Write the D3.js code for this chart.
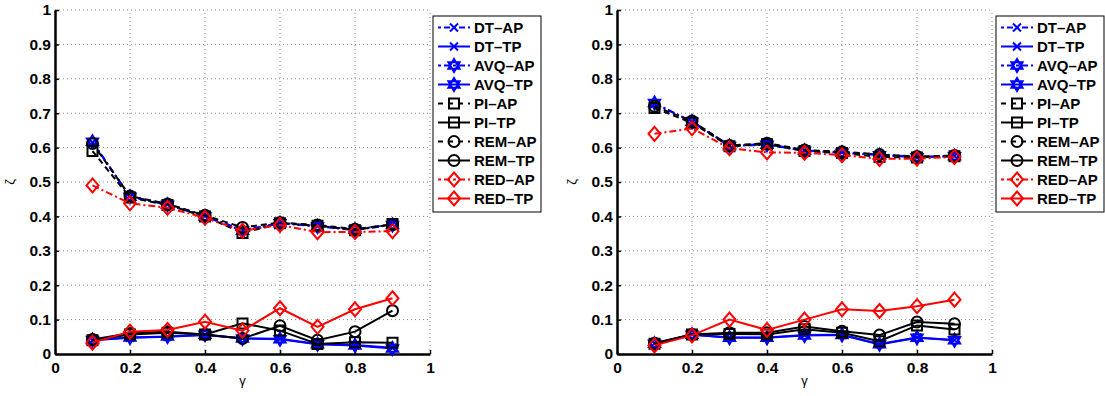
<!DOCTYPE html>
<html>
<head>
<meta charset="utf-8">
<script src="https://cdn.jsdelivr.net/npm/d3@7"></script>
<style>
body { margin: 0; background: #fff; }
text { font-family: "Liberation Sans", Arial, sans-serif; }
</style>
</head>
<body>
<div id="chart"></div>
<script>
var gammas = [0.1, 0.2, 0.3, 0.4, 0.5, 0.6, 0.7, 0.8, 0.9];
var ticks = [0, 0.1, 0.2, 0.3, 0.4, 0.5, 0.6, 0.7, 0.8, 0.9, 1];
var xticks = [0, 0.2, 0.4, 0.6, 0.8, 1];
var seriesNames = ["DT-AP", "DT-TP", "AVQ-AP", "AVQ-TP", "PI-AP", "PI-TP", "REM-AP", "REM-TP", "RED-AP", "RED-TP"];

// left panel
var leftDTAP  = [0.615, 0.458, 0.435, 0.402, 0.360, 0.381, 0.372, 0.362, 0.377];
var leftDTTP  = [0.040, 0.047, 0.050, 0.055, 0.046, 0.044, 0.029, 0.026, 0.018];
var leftAVQAP = [0.617, 0.457, 0.434, 0.400, 0.358, 0.380, 0.371, 0.361, 0.375];
var leftAVQTP = [0.041, 0.048, 0.051, 0.056, 0.045, 0.043, 0.028, 0.025, 0.016];
var leftPIAP  = [0.590, 0.455, 0.433, 0.400, 0.352, 0.380, 0.373, 0.360, 0.378];
var leftPITP  = [0.040, 0.057, 0.062, 0.057, 0.089, 0.068, 0.029, 0.034, 0.033];
var leftREMAP = [0.612, 0.459, 0.436, 0.403, 0.368, 0.382, 0.375, 0.363, 0.376];
var leftREMTP = [0.042, 0.060, 0.065, 0.057, 0.045, 0.082, 0.040, 0.065, 0.126];
var leftREDAP = [0.490, 0.438, 0.425, 0.396, 0.358, 0.375, 0.354, 0.355, 0.357];
var leftREDTP = [0.033, 0.065, 0.070, 0.094, 0.068, 0.133, 0.079, 0.130, 0.162];

// right panel
var rightDTAP  = [0.727, 0.676, 0.606, 0.610, 0.592, 0.586, 0.580, 0.573, 0.576];
var rightDTTP  = [0.031, 0.057, 0.048, 0.048, 0.055, 0.056, 0.029, 0.048, 0.041];
var rightAVQAP = [0.730, 0.675, 0.605, 0.608, 0.591, 0.585, 0.578, 0.572, 0.575];
var rightAVQTP = [0.030, 0.056, 0.047, 0.047, 0.054, 0.055, 0.028, 0.047, 0.040];
var rightPIAP  = [0.715, 0.672, 0.604, 0.610, 0.590, 0.584, 0.573, 0.571, 0.575];
var rightPITP  = [0.030, 0.057, 0.058, 0.057, 0.072, 0.062, 0.037, 0.083, 0.071];
var rightREMAP = [0.720, 0.677, 0.606, 0.613, 0.593, 0.588, 0.580, 0.574, 0.577];
var rightREMTP = [0.031, 0.057, 0.062, 0.062, 0.080, 0.066, 0.055, 0.093, 0.088];
var rightREDAP = [0.640, 0.656, 0.598, 0.586, 0.585, 0.578, 0.567, 0.568, 0.573];
var rightREDTP = [0.025, 0.054, 0.100, 0.070, 0.100, 0.130, 0.125, 0.139, 0.158];

var leftData = [leftDTAP, leftDTTP, leftAVQAP, leftAVQTP, leftPIAP, leftPITP, leftREMAP, leftREMTP, leftREDAP, leftREDTP];
var rightData = [rightDTAP, rightDTTP, rightAVQAP, rightAVQTP, rightPIAP, rightPITP, rightREMAP, rightREMTP, rightREDAP, rightREDTP];

// style per series: color, dash, marker
var styles = [
    {color: "#0000ff", dash: "7,3,2,3", marker: "x"},
    {color: "#0000ff", dash: null, marker: "x"},
    {color: "#0000ff", dash: "7,3,2,3", marker: "hex"},
    {color: "#0000ff", dash: null, marker: "hex"},
    {color: "#000000", dash: "6,4", marker: "square"},
    {color: "#000000", dash: null, marker: "square"},
    {color: "#000000", dash: "6,4", marker: "circle"},
    {color: "#000000", dash: null, marker: "circle"},
    {color: "#ff0000", dash: "7,3,2,3", marker: "diamond"},
    {color: "#ff0000", dash: null, marker: "diamond"}
];

var width = 1105, height = 396;
var svg = d3.select("#chart").append("svg")
        .attr("width", width)
        .attr("height", height);

function markerPath(type) {
    if (type == "x") {
        var s = 4;
        return "M" + (-s) + "," + (-s) + "L" + s + "," + s + "M" + (-s) + "," + s + "L" + s + "," + (-s);
    }
    if (type == "hex") {
        var r = 6.5, p = "";
        for (var t = 0; t < 2; t++) {
            for (var k = 0; k < 3; k++) {
                var a = (t * 60 + k * 120 - 90) * Math.PI / 180;
                p += (k == 0 ? "M" : "L") + (r * Math.cos(a)).toFixed(2) + "," + (r * Math.sin(a)).toFixed(2);
            }
            p += "Z";
        }
        return p;
    }
    if (type == "square") {
        return "M-5,-5L5,-5L5,5L-5,5Z";
    }
    if (type == "circle") {
        return "M-5.5,0A5.5,5.5 0 1,0 5.5,0A5.5,5.5 0 1,0 -5.5,0Z";
    }
    if (type == "diamond") {
        return "M0,-7L6,0L0,7L-6,0Z";
    }
}

function drawPanel(x0, x1, y0, y1, data, legendX) {
    var x = d3.scaleLinear().domain([0, 1]).range([x0, x1]);
    var y = d3.scaleLinear().domain([0, 1]).range([y0, y1]);
    var g = svg.append("g");

    // grid
    g.selectAll(".hgrid").data(ticks.slice(1)).enter().append("line")
            .attr("x1", x0).attr("x2", x1)
            .attr("y1", function(d) { return y(d); })
            .attr("y2", function(d) { return y(d); })
            .attr("stroke", "#888").attr("stroke-width", 1)
            .attr("stroke-dasharray", "1,3");
    g.selectAll(".vgrid").data(xticks.slice(1)).enter().append("line")
            .attr("y1", y0).attr("y2", y1)
            .attr("x1", function(d) { return x(d); })
            .attr("x2", function(d) { return x(d); })
            .attr("stroke", "#888").attr("stroke-width", 1)
            .attr("stroke-dasharray", "1,3");

    // axes
    var xAxis = d3.axisBottom(x).tickValues(xticks).tickSizeInner(-4).tickSizeOuter(0)
            .tickPadding(8).tickFormat(function(d) { return d3.format("")(d); });
    var yAxis = d3.axisLeft(y).tickValues(ticks).tickSizeInner(-4).tickSizeOuter(0)
            .tickPadding(4).tickFormat(function(d) { return d3.format("")(d); });
    var ax = g.append("g").attr("transform", "translate(0," + y0 + ")").call(xAxis);
    var ay = g.append("g").attr("transform", "translate(" + x0 + ",0)").call(yAxis);
    [ax, ay].forEach(function(a) {
        a.select(".domain").attr("stroke", "#000").attr("stroke-width", 2.5);
        a.selectAll(".tick line").attr("stroke", "#000").attr("stroke-width", 1.5);
        a.selectAll("text").attr("font-size", "15.5px").attr("font-weight", "bold").attr("fill", "#000");
    });

    g.append("text").attr("x", (x0 + x1) / 2).attr("y", 385)
            .attr("text-anchor", "middle").attr("font-size", "13px").text("γ");
    g.append("text").attr("transform", "translate(" + (x0 - 41) + "," + ((y0 + y1) / 2) + ") rotate(-90)")
            .attr("text-anchor", "middle").attr("font-size", "13px").text("ζ");

    // series
    var line = d3.line().x(function(d, i) { return x(gammas[i]); }).y(function(d) { return y(d); });
    data.forEach(function(vals, si) {
        var st = styles[si];
        var sg = g.append("g");
        sg.append("path").datum(vals).attr("d", line)
                .attr("fill", "none").attr("stroke", st.color).attr("stroke-width", 2)
                .attr("stroke-dasharray", st.dash);
        sg.selectAll("path.mk").data(vals).enter().append("path")
                .attr("class", "mk")
                .attr("transform", function(d, i) { return "translate(" + x(gammas[i]) + "," + y(d) + ")"; })
                .attr("d", markerPath(st.marker))
                .attr("fill", "none").attr("stroke", st.color).attr("stroke-width", 2);
    });

    // legend
    var lw = 108, lh = 196, ly = 16;
    var lg = g.append("g").attr("transform", "translate(" + legendX + "," + ly + ")");
    lg.append("rect").attr("width", lw).attr("height", lh)
            .attr("fill", "#fff").attr("stroke", "#000").attr("stroke-width", 1);
    seriesNames.forEach(function(name, i) {
        var st = styles[i];
        var ry = 11.5 + i * 19;
        lg.append("line").attr("x1", 5).attr("x2", 37).attr("y1", ry).attr("y2", ry)
                .attr("stroke", st.color).attr("stroke-width", 2)
                .attr("stroke-dasharray", st.dash ? (st.marker == "square" || st.marker == "circle" ? "5,5" : "3,3,6,3") : null);
        lg.append("path").attr("transform", "translate(21," + ry + ")")
                .attr("d", markerPath(st.marker))
                .attr("fill", "none").attr("stroke", st.color).attr("stroke-width", 2);
        lg.append("text").attr("x", 41).attr("y", ry + 5)
                .attr("font-size", "15px").attr("font-weight", "bold")
                .text(name.replace("-", "\u2013"));
    });
}

drawPanel(55, 430, 354, 10, leftData, 433);
drawPanel(617, 992, 354, 10, rightData, 996);
</script>
</body>
</html>
